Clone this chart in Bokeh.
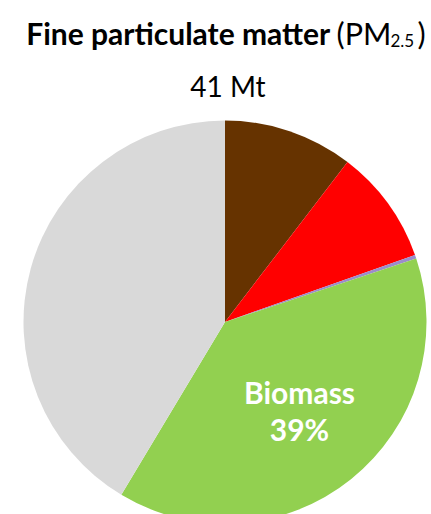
import numpy as np
from bokeh.plotting import figure
from bokeh.models import Range1d, ColumnDataSource
from bokeh.core.properties import value
from bokeh.embed import file_html
from bokeh.resources import INLINE

# Data
sources = ["Other A", "Other B", "Other C", "Biomass", "Other D"]
shares = [10.4, 9.2, 0.3, 38.7, 41.4]
colors = ["#663300", "#FF0000", "#9C8CCB", "#92D050", "#D9D9D9"]
title_bold = "Fine particulate matter"
subtitle = "41 Mt"
label_name = "Biomass"
label_pct = "39%"

# Geometry (pixel-like data units, pie centre at origin)
R = 201.5
cx, cy = 224.5, 321.5  # image coords of centre
W, H = 431, 514

def px(x):
    return x - cx

def py(y):
    return cy - y

p = figure(width=W, height=H, output_backend="svg", toolbar_location=None,
           x_range=Range1d(px(0), px(W)), y_range=Range1d(py(H), py(0)),
           min_border=0)
p.axis.visible = False
p.grid.visible = False
p.outline_line_color = None
p.background_fill_color = "white"
p.border_fill_color = "white"

fr = np.array(shares) / sum(shares)
cum = np.concatenate([[0], np.cumsum(fr)])
start = np.pi / 2 - 2 * np.pi * cum[:-1]
end = np.pi / 2 - 2 * np.pi * cum[1:]
src = ColumnDataSource(dict(start=start, end=end, color=colors, name=sources))
p.wedge(x=0, y=0, radius=R, start_angle="end", end_angle="start",
        fill_color="color", line_color=None, source=src)

font = value("Lato")
p.text(x=[px(25.7)], y=[py(32.3)], text=[title_bold], text_font=font,
       text_font_size="30px", text_font_style="bold", text_color="black",
       text_align="left", text_baseline="alphabetic")
p.text(x=[px(336)], y=[py(32.3)], text=["(PM"], text_font=font,
       text_font_size="30.5px", text_color="black",
       text_align="left", text_baseline="alphabetic")
p.text(x=[px(390)], y=[py(40)], text=["2.5"], text_font=font,
       text_font_size="17px", text_color="black",
       text_align="left", text_baseline="alphabetic")
p.text(x=[px(417)], y=[py(32.3)], text=[")"], text_font=font,
       text_font_size="30.5px", text_color="black",
       text_align="left", text_baseline="alphabetic")
p.text(x=[px(227.5)], y=[py(85)], text=[subtitle], text_font=font,
       text_font_size="28px", text_color="black",
       text_align="center", text_baseline="alphabetic")
p.text(x=[px(299)], y=[py(391.7)], text=[label_name], text_font=font,
       text_font_size="30px", text_font_style="bold", text_color="white",
       text_align="center", text_baseline="alphabetic")
p.text(x=[px(299)], y=[py(428.3)], text=[label_pct], text_font=font,
       text_font_size="30px", text_font_style="bold", text_color="white",
       text_align="center", text_baseline="alphabetic")

open("out.html", "w").write(file_html(p, INLINE))
